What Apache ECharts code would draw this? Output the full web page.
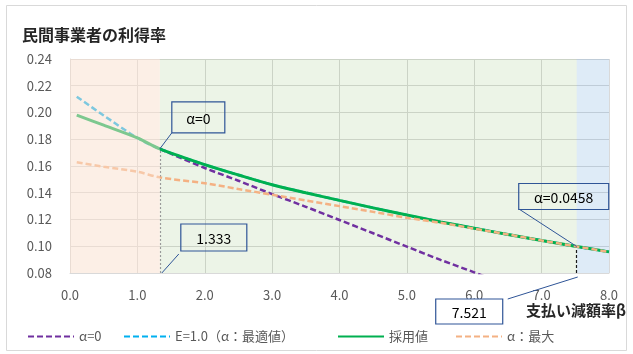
<!DOCTYPE html>
<html>
<head>
<meta charset="utf-8">
<script src="https://cdn.jsdelivr.net/npm/echarts@6/dist/echarts.min.js"></script>
<style>
  html, body { margin: 0; padding: 0; background: #ffffff; }
  #chart { width: 633px; height: 354px; }
</style>
</head>
<body>
<div id="chart"></div>
<script>
// 支払い減額率β sample points shared by the curves
const betaValues = [0.1, 0.5, 1.0, 1.333, 2.0, 2.5, 3.0, 3.5, 4.0, 4.5, 5.0, 5.5, 6.0, 6.5, 7.0, 7.521, 8.0];

// 採用値
const adoptedRate = [0.198, 0.1905, 0.181, 0.1728, 0.161, 0.1533, 0.146, 0.140, 0.1343, 0.1287, 0.1233, 0.1182, 0.1135, 0.1088, 0.1043, 0.0998, 0.0958];
// E=1.0（α：最適値）
const optimalRate = [0.2118, 0.1978, 0.181, 0.1728, 0.161, 0.1533, 0.146, 0.140, 0.1343, 0.1287, 0.1233, 0.1182, 0.1135, 0.1088, 0.1043, 0.0998, 0.0958];
// α：最大
const maxAlphaRate = [0.1628, 0.1595, 0.1557, 0.1515, 0.1471, 0.1428, 0.1385, 0.1342, 0.1300, 0.1257, 0.1213, 0.1175, 0.1132, 0.1088, 0.1043, 0.0998, 0.0958];

// α=0 (defined from β=1.333 onward)
const alphaZeroBeta = [1.333, 2.0, 2.5, 3.0, 3.5, 4.0, 4.5, 5.0, 5.5, 6.0, 6.2];
const alphaZeroRate = [0.1728, 0.1585, 0.149, 0.139, 0.1295, 0.1196, 0.1097, 0.0997, 0.0898, 0.0805, 0.0765];

// region boundaries and annotated points
const betaLow = 1.333;
const betaHigh = 7.521;
const rateAtLow = 0.1728;
const rateAtHigh = 0.0998;
const alphaAtHigh = 0.0458;

const xTicks = { min: 0, max: 8, interval: 1 };
const yTicks = { min: 0.08, max: 0.24, interval: 0.02 };

const seriesNames = ['α=0', 'E=1.0（α：最適値）', '採用値', 'α：最大'];
const seriesColors = ['#7030a0', '#00b0f0', '#00b050', '#f4b183'];

const FONT = "'Noto Sans CJK JP', 'Noto Sans', sans-serif";

function pairs(xs, ys) { return xs.map((x, i) => [x, ys[i]]); }

const chart = echarts.init(document.getElementById('chart'), null, { renderer: 'canvas' });

const dashed = [6, 3];

// one legend per entry so each can sit at its own place in the bottom row
function legendAt(left, name) {
  return {
    data: [name], left: left, top: 330, padding: 0,
    itemWidth: 46, itemHeight: 10, itemGap: 0,
    itemStyle: { opacity: 0 },
    textStyle: { color: '#595959', fontSize: 13, fontFamily: FONT },
    selectedMode: false
  };
}

const option = {
  animation: false,
  backgroundColor: '#ffffff',
  title: {
    text: '民間事業者の利得率',
    left: 17, top: 22,
    textStyle: { fontSize: 16, fontWeight: 'bold', color: '#262626', fontFamily: FONT }
  },
  legend: [
    legendAt(27, seriesNames[0]),
    legendAt(123, seriesNames[1]),
    legendAt(337, seriesNames[2]),
    legendAt(455, seriesNames[3])
  ],
  grid: { left: 70, right: 24, top: 59, bottom: 81 },
  xAxis: {
    type: 'value', min: xTicks.min, max: xTicks.max, interval: xTicks.interval,
    name: '支払い減額率β', nameLocation: 'end', nameGap: 17,
    nameTextStyle: { fontSize: 15, fontWeight: 'bold', color: '#262626', fontFamily: FONT,
      align: 'right', verticalAlign: 'top', padding: [30, 0, 0, 0] },
    axisLine: { show: true, lineStyle: { color: '#d9d9d9' } },
    axisTick: { show: false },
    axisLabel: { margin: 16, color: '#595959', fontSize: 13, fontFamily: FONT,
      formatter: v => v.toFixed(1) },
    splitLine: { show: true, lineStyle: { color: '#d9d9d9', width: 1 } }
  },
  yAxis: {
    type: 'value', min: yTicks.min, max: yTicks.max, interval: yTicks.interval,
    axisLine: { show: true, lineStyle: { color: '#d9d9d9' } },
    axisTick: { show: false },
    axisLabel: { margin: 18, color: '#595959', fontSize: 13, fontFamily: FONT,
      formatter: v => v.toFixed(2) },
    splitLine: { show: true, lineStyle: { color: '#d9d9d9', width: 1 } }
  },
  series: [
    {
      name: '_bands', type: 'line', data: [], z: 1, silent: true,
      markArea: {
        silent: true, z: 1,
        data: [
          [{ xAxis: betaLow, yAxis: yTicks.min, itemStyle: { color: 'rgba(112,173,71,0.13)' } },
           { xAxis: betaHigh, yAxis: yTicks.max }],
          [{ xAxis: betaHigh, yAxis: yTicks.min, itemStyle: { color: 'rgba(91,155,213,0.2)' } },
           { xAxis: xTicks.max, yAxis: yTicks.max }]
        ]
      }
    },
    {
      name: seriesNames[0], type: 'line', z: 3, symbol: 'none', smooth: 0.3,
      data: pairs(alphaZeroBeta, alphaZeroRate),
      lineStyle: { color: seriesColors[0], width: 2.5, type: dashed },
      itemStyle: { color: seriesColors[0] }
    },
    {
      name: seriesNames[1], type: 'line', z: 3, symbol: 'none', smooth: 0.3,
      data: pairs(betaValues, optimalRate),
      lineStyle: { color: seriesColors[1], width: 2.5, type: dashed },
      itemStyle: { color: seriesColors[1] }
    },
    {
      name: seriesNames[2], type: 'line', z: 4, symbol: 'none', smooth: 0.3,
      data: pairs(betaValues, adoptedRate),
      lineStyle: { color: seriesColors[2], width: 3 },
      itemStyle: { color: seriesColors[2] },
      markLine: {
        silent: true, symbol: 'none', animation: false, label: { show: false },
        data: [
          [{ coord: [betaLow, yTicks.min], lineStyle: { color: '#9a9a9a', width: 1.2, type: [2, 2] } },
           { coord: [betaLow, rateAtLow] }],
          [{ coord: [betaHigh, yTicks.min], lineStyle: { color: '#1a1a1a', width: 1.2, type: [3, 2] } },
           { coord: [betaHigh, rateAtHigh] }]
        ]
      }
    },
    {
      name: seriesNames[3], type: 'line', z: 5, symbol: 'none', smooth: 0.3,
      data: pairs(betaValues, maxAlphaRate),
      lineStyle: { color: seriesColors[3], width: 2.5, type: dashed },
      itemStyle: { color: seriesColors[3] }
    },
    {
      name: '_overlay', type: 'line', data: [], z: 10, silent: true,
      markArea: {
        silent: true, z: 10,
        data: [
          [{ xAxis: xTicks.min, yAxis: yTicks.min, itemStyle: { color: 'rgba(249,223,205,0.5)' } },
           { xAxis: betaLow, yAxis: yTicks.max }]
        ]
      }
    }
  ]
};

chart.setOption(option);

// callout boxes attached to the annotated points
function px(x, y) { return chart.convertToPixel({ gridIndex: 0 }, [x, y]); }

const calloutStroke = '#2f5597';
function callout(anchor, text, box, lead, fill) {
  const [ax, ay] = anchor;
  return [
    {
      type: 'line', z: 20, silent: true,
      shape: { x1: ax + lead[0], y1: ay + lead[1], x2: ax + lead[2], y2: ay + lead[3] },
      style: { stroke: calloutStroke, lineWidth: 1 }
    },
    {
      type: 'rect', z: 20, silent: true,
      shape: { x: ax + box[0], y: ay + box[1], width: box[2], height: box[3] },
      style: { fill: fill, stroke: calloutStroke, lineWidth: 1.2 }
    },
    {
      type: 'text', z: 21, silent: true,
      x: ax + box[0] + box[2] / 2, y: ay + box[1] + box[3] / 2 + 1,
      style: { text: text, fill: '#000000', fontSize: 14, fontFamily: FONT,
        align: 'center', verticalAlign: 'middle' }
    }
  ];
}

const pTopLow = px(betaLow, rateAtLow);
const pBaseLow = px(betaLow, yTicks.min);
const pTopHigh = px(betaHigh, rateAtHigh);
const pBaseHigh = px(betaHigh, yTicks.min);

const graphics = [].concat(
  callout(pTopLow, 'α=0', [12, -47, 53, 31], [0, 0, 12, -16], 'transparent'),
  callout(pBaseLow, betaLow.toFixed(3), [21, -49, 66, 27], [2, 0, 19, -19], 'transparent'),
  callout(pTopHigh, 'α=' + alphaAtHigh, [-58, -63, 90, 26], [0, 0, -57, -37], 'transparent'),
  callout(pBaseHigh, betaHigh.toFixed(3), [-141, 26, 67, 25], [1, 4, -69, 26], '#ffffff'),
  [{
    type: 'rect', z: 0, silent: true,
    shape: { x: 6.5, y: 5.5, width: 620, height: 345 },
    style: { fill: 'none', stroke: '#d9d9d9', lineWidth: 1 }
  }]
);

chart.setOption({ graphic: graphics });
</script>
</body>
</html>
